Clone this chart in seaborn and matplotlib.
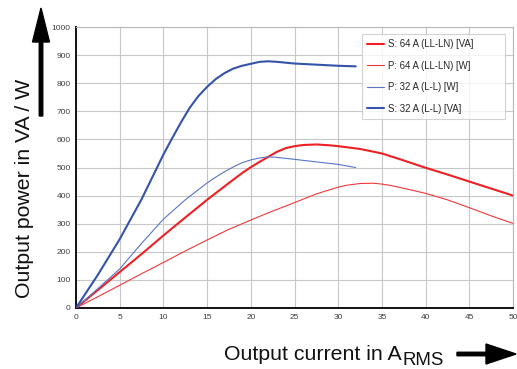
import matplotlib
matplotlib.use("Agg")
import matplotlib.pyplot as plt
from matplotlib.patches import FancyArrow
import seaborn as sns
import pandas as pd

# Output current in A_RMS and output power curves
current_s64 = [0, 2.5, 5, 7.5, 10, 12.5, 15, 17.5, 19, 20, 21, 22, 23, 24, 25, 26,
               27.5, 29, 30, 32.5, 35, 37.5, 40, 42.5, 45, 47.5, 50]
s_64_va = [0, 64, 128, 192, 258, 322, 385, 445, 480, 501, 520, 538, 556, 569, 576, 580,
           582, 579, 576, 566, 550, 525, 499, 475, 450, 425, 400]

current_p64 = [0, 2.5, 5, 7.5, 10, 12.5, 15, 17.5, 20, 22.5, 25, 27.5, 30, 31, 32.5,
               34, 35, 36, 37.5, 40, 42.5, 45, 47.5, 50]
p_64_w = [0, 40, 81, 122, 162, 203, 242, 280, 313, 345, 375, 406, 430, 437, 443,
          444, 441, 436, 426, 408, 385, 357, 328, 301]

current_p32 = [0, 2.5, 5, 7.5, 10, 12.5, 15, 16, 17, 18, 19, 20, 21, 22, 23, 25,
               27.5, 30, 32]
p_32_w = [0, 69, 139, 230, 316, 385, 445, 466, 485, 502, 517, 527, 534, 538, 536, 529,
          520, 511, 500]

current_s32 = [0, 2.5, 5, 7.5, 10, 11, 12, 13, 14, 15, 16, 17, 18, 19, 20, 21, 22,
               23, 25, 27.5, 30, 32]
s_32_va = [0, 118, 245, 387, 546, 604, 660, 712, 754, 787, 815, 836, 852, 862, 869,
           876, 878, 876, 870, 866, 862, 860]

series_labels = ["S: 64 A (LL-LN) [VA]", "P: 64 A (LL-LN) [W]",
                 "P: 32 A (L-L) [W]", "S: 32 A (L-L) [VA]"]
x_ticks = list(range(0, 51, 5))
y_ticks = list(range(0, 1001, 100))

sns.set_theme(style="white")
plt.rcParams["font.family"] = ["Liberation Sans", "DejaVu Sans"]

W, H = 517, 369
fig = plt.figure(figsize=(W / 100, H / 100), dpi=100)
ax = fig.add_axes([76 / W, (H - 308) / H, 437 / W, 281 / H])

frames = [
    pd.DataFrame({"current": current_s64, "power": s_64_va, "series": series_labels[0]}),
    pd.DataFrame({"current": current_p64, "power": p_64_w, "series": series_labels[1]}),
    pd.DataFrame({"current": current_p32, "power": p_32_w, "series": series_labels[2]}),
    pd.DataFrame({"current": current_s32, "power": s_32_va, "series": series_labels[3]}),
]
colors = ["#ee2024", "#f2383c", "#5a74c4", "#3553a8"]
widths = [1.5, 0.8, 0.8, 1.5]

for df, c, lw in zip(frames, colors, widths):
    sns.lineplot(data=df, x="current", y="power", color=c, linewidth=lw,
                 label=df["series"].iloc[0], ax=ax, zorder=3)
for line in ax.get_lines():
    line.set_solid_joinstyle("round")

ax.set_xlim(0, 50)
ax.set_ylim(0, 1000)
ax.set_xticks(x_ticks)
ax.set_yticks(y_ticks)
ax.set_xlabel("")
ax.set_ylabel("")
ax.grid(True, color="#c8c8c8", linewidth=0.8)
ax.tick_params(axis="both", length=0, labelsize=6, labelcolor="#404040", pad=4)

for side in ("top", "right"):
    ax.spines[side].set_color("#b8b8b8")
    ax.spines[side].set_linewidth(0.8)
for side in ("left", "bottom"):
    ax.spines[side].set_color("#111111")
    ax.spines[side].set_linewidth(1.4)

leg = ax.legend(loc="upper left",
                bbox_to_anchor=(362 / W, (H - 121) / H, 143 / W, 87 / H),
                bbox_transform=fig.transFigure, mode="expand",
                fontsize=6.9, frameon=True, fancybox=False, edgecolor="#c8c8c8",
                handlelength=1.75, handletextpad=0.45, labelspacing=1.2,
                borderpad=0.55, borderaxespad=0)
leg.get_frame().set_linewidth(0.8)

# Axis titles with direction arrows
fig.text(25 / W, (H - 188) / H, "Output power in VA / W", rotation=90,
         ha="center", va="center", fontsize=15.3, color="#111111")
fig.text(224 / W, (H - 360) / H, "Output current in A",
         ha="left", va="baseline", fontsize=15.3, color="#111111")
fig.text(403 / W, (H - 365) / H, "RMS",
         ha="left", va="baseline", fontsize=13.4, color="#111111")

fig.patches.append(FancyArrow(0.41, (H - 116) / 100, 0, 1.08, width=0.035,
                              head_width=0.17, head_length=0.34,
                              length_includes_head=True, color="black",
                              transform=fig.dpi_scale_trans, figure=fig))
fig.patches.append(FancyArrow(4.57, (H - 354) / 100, 0.59, 0, width=0.035,
                              head_width=0.20, head_length=0.30,
                              length_includes_head=True, color="black",
                              transform=fig.dpi_scale_trans, figure=fig))

fig.savefig("out.png", dpi=100)
